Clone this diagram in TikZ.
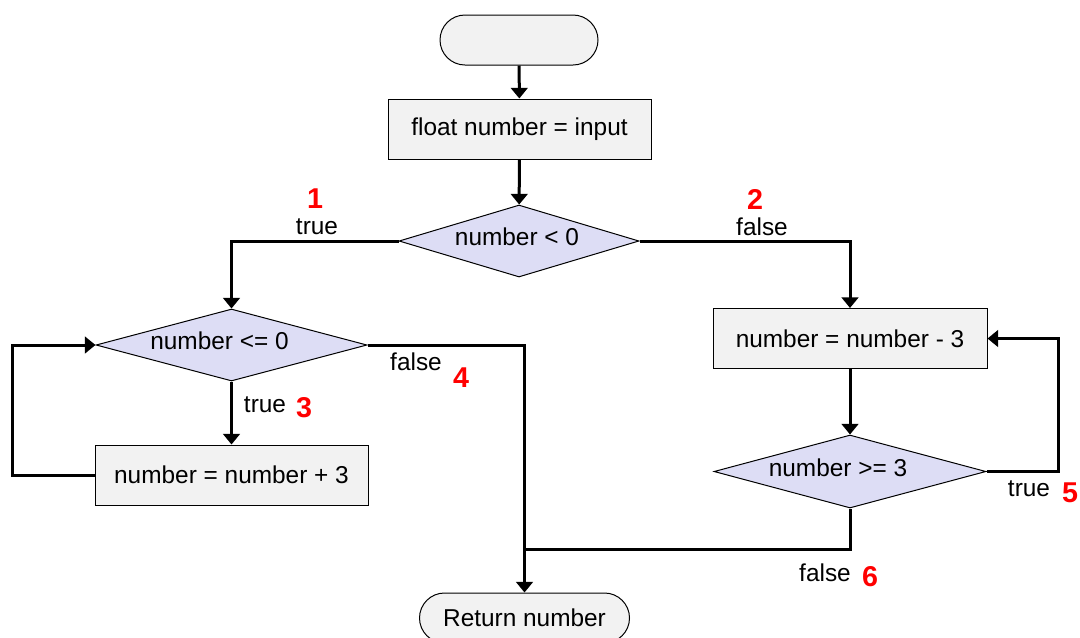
\documentclass[tikz,border=0pt]{standalone}
\usepackage{fontspec}
\setmainfont{Liberation Sans}
\usetikzlibrary{shapes.geometric,arrows.meta}
\definecolor{boxfill}{HTML}{F2F2F2}
\definecolor{decfill}{HTML}{DDDDF5}
\definecolor{numred}{HTML}{FF0000}

\begin{document}
\begin{tikzpicture}[x=0.75pt,y=-0.75pt,
  every node/.style={font=\fontsize{18.3}{22}\selectfont, inner sep=0pt},
  terminal/.style={draw=black, line width=0.75pt, fill=boxfill,
    rectangle, rounded corners=18.75pt, minimum height=37.5pt},
  procbox/.style={draw=black, line width=0.75pt, fill=boxfill,
    rectangle, minimum height=45pt},
  decision/.style={draw=black, line width=0.75pt, fill=decfill,
    diamond, shape aspect=3.5},
  conn/.style={draw=black, line width=2.25pt,
    -{Triangle[length=8pt,width=12.5pt]}},
  plainline/.style={draw=black, line width=2.25pt},
  branch/.style={font=\fontsize{18.3}{22}\selectfont},
  stepnum/.style={text=numred, font=\fontsize{21.5}{25}\selectfont\bfseries}]

\useasboundingbox (0,0) rectangle (1080,637);

% nodes
\node[terminal, minimum width=118.5pt] (start) at (519,40) {};
\node[procbox, minimum width=197.25pt] (init) at (519.5,129) {float number = input};
\node[decision, minimum width=180pt, minimum height=54pt] (d1) at (519,241) {};
\node[decision, minimum width=203.25pt, minimum height=54pt] (d2) at (231.5,345) {};
\node[procbox, minimum width=205.5pt] (sub) at (850,338.5) {number = number - 3};
\node[procbox, minimum width=204.75pt] (add) at (231.5,475) {number = number + 3};
\node[decision, minimum width=204pt, minimum height=54.75pt] (d3) at (850,471.5) {};
\node[terminal, minimum width=157.5pt] (ret) at (524.5,618) {Return number};

% decision texts, set a little left of and above the diamond centres
\node (d1t) at ([shift={(-2,-4)}]d1.center) {number < 0};
\node (d2t) at ([shift={(-12,-4)}]d2.center) {number <= 0};
\node (d3t) at ([shift={(-12,-4)}]d3.center) {number >= 3};

% helper points for the loops and the join
\coordinate (loopL) at (12,475);
\coordinate (loopR) at (1058,471.5);
\coordinate (join) at (524.5,549);

% connectors
\draw[conn] (start) -- (init);
\draw[conn] (init) -- (d1);
\draw[conn] (d1.west) -| (d2.north);
\draw[conn] (d1.east) -| (sub.north);
\draw[conn] (d2.south) -- (add.north);
\draw[conn] (add.west) -- (loopL) |- (d2.west);
\draw[conn] (d2.east) -| (ret.north);
\draw[conn] (sub.south) -- (d3.north);
\draw[conn] (d3.east) -- (loopR) |- (sub.east);
\draw[plainline] (d3.south) |- (join);

% branch labels and step numbers
\node[branch] (t1) at (317,227) {true};
\node[stepnum] (n1) at (315,199) {1};
\node[branch] (f2) at (762,227) {false};
\node[stepnum] (n2) at (755,199) {2};
\node[branch] (t3) at (265,405) {true};
\node[stepnum] (n3) at (304,408) {3};
\node[branch] (f4) at (416,362) {false};
\node[stepnum] (n4) at (461,378) {4};
\node[branch] (t5) at (1029,489) {true};
\node[stepnum] (n5) at (1070,493) {5};
\node[branch] (f6) at (825,573) {false};
\node[stepnum] (n6) at (870,577) {6};

\end{tikzpicture}
\end{document}
